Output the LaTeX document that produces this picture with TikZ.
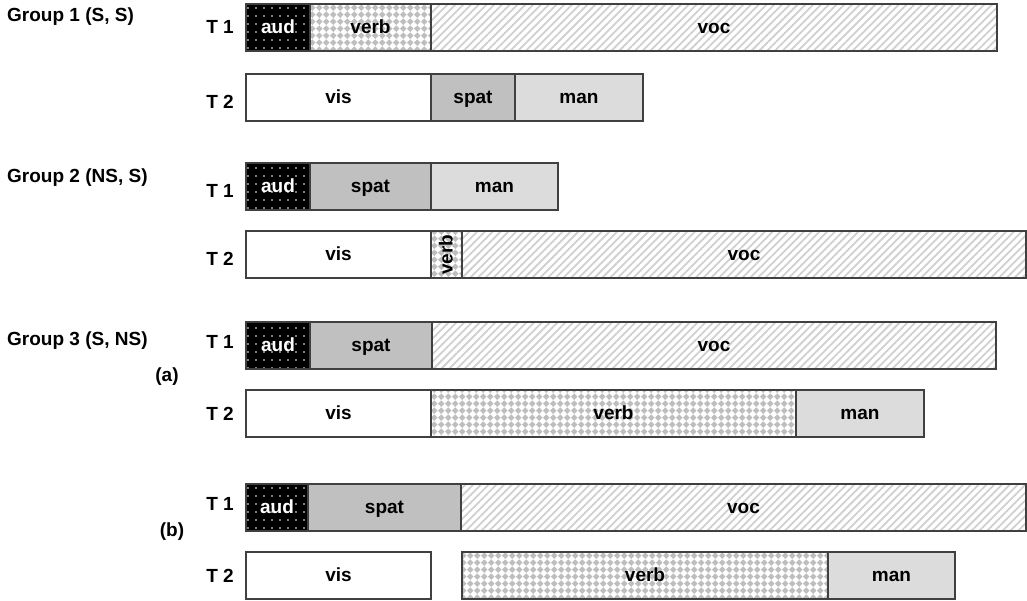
\documentclass[tikz,border=0pt]{standalone}
\usepackage{fontspec}
\setmainfont{Liberation Sans}
\usetikzlibrary{patterns.meta}
\tikzdeclarepattern{
  name=checkdiamond,
  type=uncolored,
  bounding box={(0pt,0pt) and (7.2pt,7.2pt)},
  tile size={(7.2pt,7.2pt)},
  code={\fill (3.6pt,0pt) -- (7.2pt,3.6pt) -- (3.6pt,7.2pt) -- (0pt,3.6pt) -- cycle;}
}
\definecolor{bordergray}{HTML}{404040}
\definecolor{spatgray}{HTML}{C0C0C0}
\definecolor{mangray}{HTML}{DCDCDC}
\definecolor{hatchgray}{HTML}{D0D0D0}
\definecolor{checkgray}{HTML}{BEBEBE}
\tikzset{
  lbl/.style={font=\bfseries\fontsize{19}{19}\selectfont, inner sep=0pt},
  seg/.style={draw=bordergray, line width=1.1pt, minimum height=47pt, inner sep=0pt,
    font=\bfseries\fontsize{19}{19}\selectfont, text height=14pt, text depth=3pt},
  audst/.style={text=white, preaction={fill=black},
    preaction={pattern={Dots[distance=8pt, radius=0.9pt]}, pattern color=white}},
  verbst/.style={preaction={fill=white}, preaction={pattern=checkdiamond, pattern color=checkgray}},
  vocst/.style={preaction={fill=white}, preaction={pattern={Lines[angle=45, distance=5.5pt, line width=1.8pt]}, pattern color=hatchgray}},
  visst/.style={fill=white},
  spatst/.style={fill=spatgray},
  manst/.style={fill=mangray}
}
\newcommand\barseg[6]{\node[seg,#5,minimum width={#3pt-#2pt}] (#1) at ({(#2+#3)/2},#4) {#6};}
\begin{document}
\begin{tikzpicture}[x=1pt,y=-1pt]
\useasboundingbox (0,0) rectangle (1027,600);
% group labels
\node[lbl, anchor=base west] (g1) at (7,21) {Group 1 (S, S)};
\node[lbl, anchor=base west] (g2) at (7,182) {Group 2 (NS, S)};
\node[lbl, anchor=base west] (g3) at (7,345) {Group 3 (S, NS)};
\node[lbl, anchor=base] (la) at (167,381) {(a)};
\node[lbl, anchor=base] (lb) at (172,536) {(b)};
% T labels
\node[lbl, anchor=base east] (t11) at (234,33) {T 1};
\node[lbl, anchor=base east] (t12) at (234,108) {T 2};
\node[lbl, anchor=base east] (t21) at (234,197) {T 1};
\node[lbl, anchor=base east] (t22) at (234,265) {T 2};
\node[lbl, anchor=base east] (t31) at (234,348) {T 1};
\node[lbl, anchor=base east] (t32) at (234,420) {T 2};
\node[lbl, anchor=base east] (t41) at (234,510) {T 1};
\node[lbl, anchor=base east] (t42) at (234,582) {T 2};
% Group 1
\barseg{a1}{246}{310}{27.5}{audst}{aud}
\barseg{b1}{310}{431}{27.5}{verbst}{verb}
\barseg{c1}{431}{997}{27.5}{vocst}{voc}
\barseg{a2}{246}{431}{97.5}{visst}{vis}
\barseg{b2}{431}{515}{97.5}{spatst}{spat}
\barseg{c2}{515}{643}{97.5}{manst}{man}
% Group 2
\barseg{a3}{246}{310}{186.5}{audst}{aud}
\barseg{b3}{310}{431}{186.5}{spatst}{spat}
\barseg{c3}{431}{558}{186.5}{manst}{man}
\barseg{a4}{246}{431}{254.5}{visst}{vis}
\node[seg, verbst, rotate=90, minimum width=47pt, minimum height=31pt, text height=13pt, text depth=1pt] (b4) at (446.5,254.5) {verb};
\barseg{c4}{462}{1026}{254.5}{vocst}{voc}
% Group 3 (a)
\barseg{a5}{246}{310}{345.5}{audst}{aud}
\barseg{b5}{310}{432}{345.5}{spatst}{spat}
\barseg{c5}{432}{996}{345.5}{vocst}{voc}
\barseg{a6}{246}{431}{413.5}{visst}{vis}
\barseg{b6}{431}{796}{413.5}{verbst}{verb}
\barseg{c6}{796}{924}{413.5}{manst}{man}
% Group 3 (b)
\barseg{a7}{246}{308}{507.5}{audst}{aud}
\barseg{b7}{308}{461}{507.5}{spatst}{spat}
\barseg{c7}{461}{1026}{507.5}{vocst}{voc}
\barseg{a8}{246}{431}{575.5}{visst}{vis}
\barseg{b8}{462}{828}{575.5}{verbst}{verb}
\barseg{c8}{828}{955}{575.5}{manst}{man}
\end{tikzpicture}
\end{document}
